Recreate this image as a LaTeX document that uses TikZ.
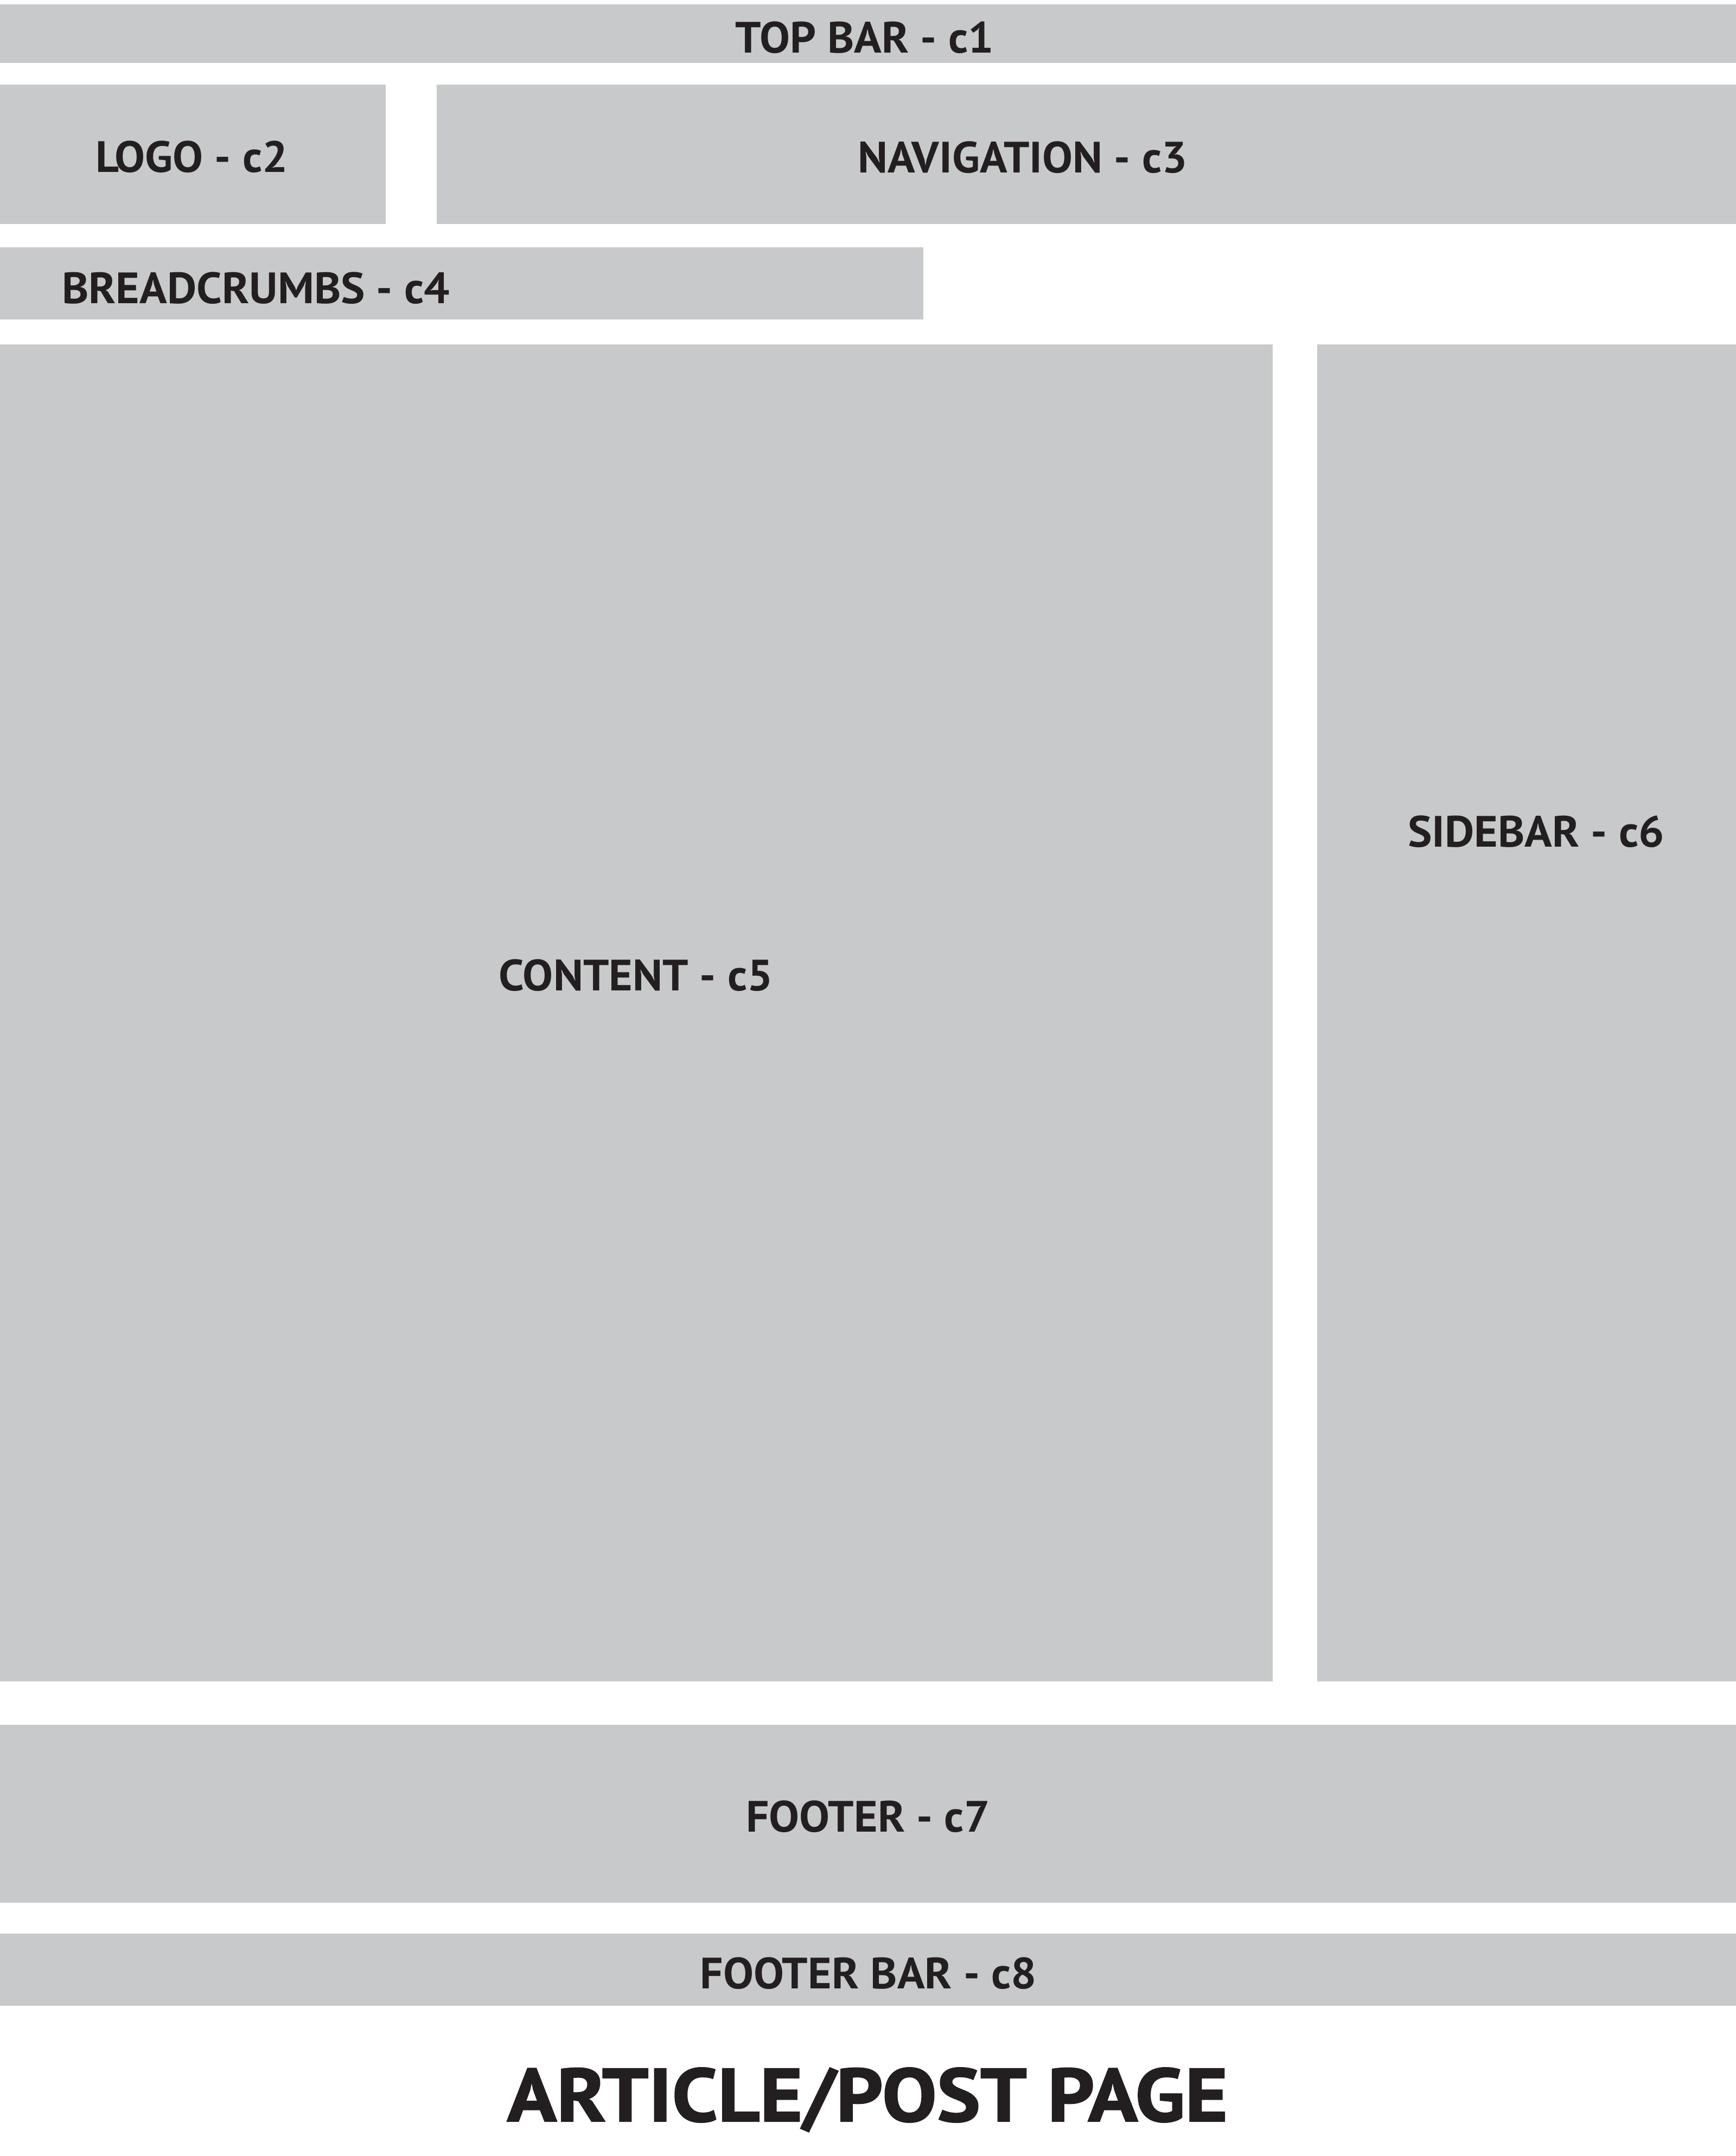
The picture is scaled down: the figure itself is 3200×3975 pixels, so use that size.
\documentclass[tikz,border=0pt]{standalone}
\usepackage{fontspec}
\setmainfont{PT Sans}
\newfontfamily\tagfont{PT Sans}[FakeStretch=1.035]
\newfontfamily\titlefont{PT Sans}[FakeStretch=1.09,FakeBold=1.6]
\definecolor{blockgray}{HTML}{C8C9CB}
\definecolor{inkdark}{HTML}{231F20}
\begin{document}
\begin{tikzpicture}[x=0.01cm,y=-0.01cm,
  block/.style={fill=blockgray},
  tag/.style={inner sep=0pt,outer sep=0pt,anchor=base,text=inkdark,
    font=\tagfont\bfseries\fontsize{23}{23}\selectfont},
  pagetitle/.style={inner sep=0pt,outer sep=0pt,anchor=base,text=inkdark,
    font=\titlefont\bfseries\fontsize{39.4}{39.4}\selectfont}]
  \useasboundingbox[fill=white] (0,0) rectangle (3200,3975);
  % page regions
  \path[block] (0,7.5)   rectangle (3200,115.7);
  \path[block] (0,156)   rectangle (711,413);
  \path[block] (805,156) rectangle (3200,413);
  \path[block] (0,456)   rectangle (1702,589);
  \path[block] (0,635)   rectangle (2346,3100);
  \path[block] (2428,635) rectangle (3200,3100);
  \path[block] (0,3180)  rectangle (3200,3508);
  \path[block] (0,3565)  rectangle (3200,3698);
  % region labels
  \node[tag] (c1) at (1594,97.3)   {TOP BAR - c1};
  \node[tag] (c2) at (353.5,317.6) {LOGO - c2};
  \node[tag] (c3) at (1885,318)    {NAVIGATION - c3};
  \node[tag,anchor=base west] (c4) at (114,559.7) {BREADCRUMBS - c4};
  \node[tag] (c5) at (1172.5,1826) {CONTENT - c5};
  \node[tag] (c6) at (2831.6,1561.7) {SIDEBAR - c6};
  \node[tag] (c7) at (1600,3377.3) {FOOTER - c7};
  \node[tag] (c8) at (1601,3666)   {FOOTER BAR - c8};
  % page title
  \node[pagetitle] (title) at (1599,3911) {ARTICLE/POST PAGE};
\end{tikzpicture}
\end{document}
